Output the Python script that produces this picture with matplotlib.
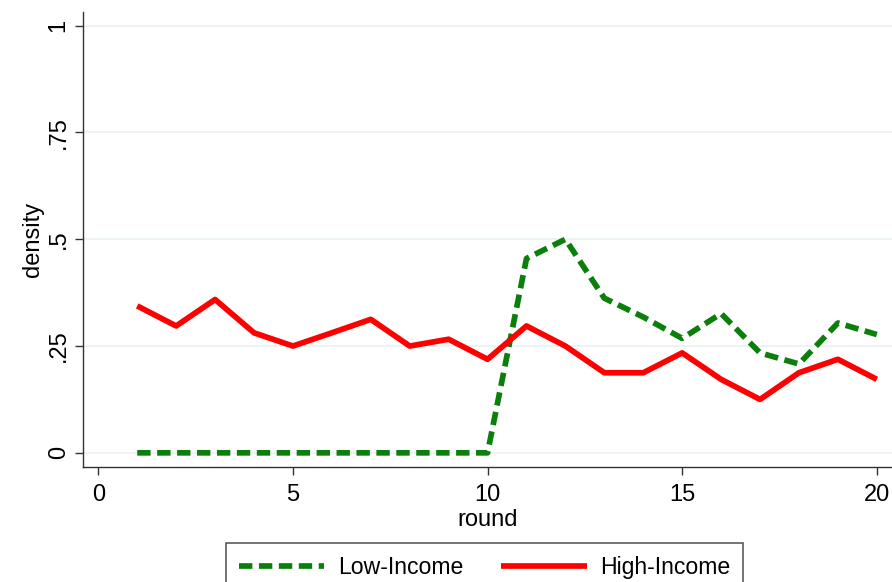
import matplotlib
matplotlib.use("Agg")
import matplotlib.pyplot as plt

rounds = list(range(1, 21))
low_income = [0, 0, 0, 0, 0, 0, 0, 0, 0, 0,
              0.455, 0.5, 0.362, 0.318, 0.268, 0.326, 0.234, 0.208, 0.304, 0.277]
high_income = [0.344, 0.297, 0.359, 0.281, 0.25, 0.281, 0.3125, 0.25, 0.266, 0.219,
               0.297, 0.25, 0.1875, 0.1875, 0.234, 0.172, 0.125, 0.1875, 0.219, 0.172]

x_ticks = [0, 5, 10, 15, 20]
y_ticks = [0, 0.25, 0.5, 0.75, 1]
y_ticklabels = ["0", ".25", ".5", ".75", "1"]

plt.rcParams["font.family"] = ["Liberation Sans", "DejaVu Sans"]

fig = plt.figure(figsize=(8.92, 5.82), dpi=100)
ax = fig.add_axes([0.0934, 0.197, 0.9066, 0.7823])

axis_col = "#333333"
grid_col = "#eaf2f3"

for y in y_ticks:
    ax.axhline(y, color=grid_col, lw=1.3, zorder=0)

ln_low, = ax.plot(rounds, low_income, color="#0b7f0b", lw=4.1,
                  dashes=(2.35, 1.15), dash_capstyle="butt", zorder=3,
                  label="Low-Income")
ln_high, = ax.plot(rounds, high_income, color="#ff0000", lw=4.1,
                   solid_capstyle="butt", zorder=3, label="High-Income")

ax.set_xlim(-0.385, 20.39)
ax.set_ylim(-0.034, 1.032)

ax.spines["top"].set_visible(False)
ax.spines["right"].set_visible(False)
for s in ("left", "bottom"):
    ax.spines[s].set_color(axis_col)
    ax.spines[s].set_linewidth(1.0)

ax.set_xticks(x_ticks)
ax.set_xticklabels([str(v) for v in x_ticks])
ax.set_yticks(y_ticks)
ax.set_yticklabels(y_ticklabels, rotation=90, va="center")
ax.tick_params(axis="both", direction="out", length=5.8, width=1.0,
               color=axis_col, labelcolor="#000000", labelsize=17)
ax.tick_params(axis="x", pad=6)
ax.tick_params(axis="y", pad=4)

ax.set_xlabel("round", fontsize=17, labelpad=2)
ax.set_ylabel("density", fontsize=17, labelpad=3)

leg = fig.legend(handles=[ln_low, ln_high], loc="upper left",
                 bbox_to_anchor=(226 / 892, 1 - 543 / 582),
                 ncol=2, frameon=True, fancybox=False, fontsize=16.6,
                 handlelength=3.7, handletextpad=0.6, columnspacing=1.65,
                 borderpad=0.55, borderaxespad=0)
leg.get_frame().set_edgecolor(axis_col)
leg.get_frame().set_linewidth(1.2)

fig.savefig("out.png", dpi=100)
